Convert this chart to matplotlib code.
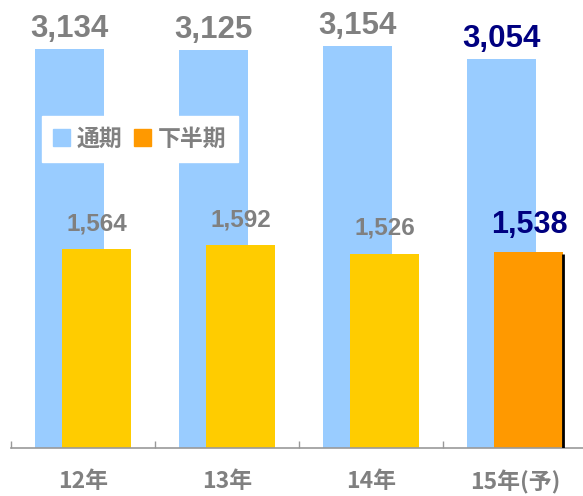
import matplotlib
matplotlib.use("Agg")
import matplotlib.pyplot as plt
from matplotlib import font_manager
from matplotlib.patches import Patch

# data
years = ["12年", "13年", "14年", "15年(予)"]
full_year = [3134, 3125, 3154, 3054]
second_half = [1564, 1592, 1526, 1538]
is_forecast = [False, False, False, True]

BLUE = "#99CCFF"
YELLOW = "#FFCC00"
ORANGE = "#FF9900"
GRAY = "#808080"
NAVY = "#000080"

installed = {f.name for f in font_manager.fontManager.ttflist}
num_font = "Liberation Sans Narrow" if "Liberation Sans Narrow" in installed else "Liberation Sans"
jp_font = ["Noto Sans CJK JP", "DejaVu Sans"]

fig = plt.figure(figsize=(5.83, 4.96), dpi=100)
W, H = 583, 496
ax = fig.add_axes([11 / W, 48 / H, 576 / W, 448 / H])

x = list(range(len(years)))
bw = 0.479
off = 0.097

ax.bar([i - off for i in x], full_year, width=bw, color=BLUE, zorder=1)
ax.bar([i + off for i in x], second_half, width=bw,
       color=[ORANGE if f else YELLOW for f in is_forecast], zorder=2)

# black edge on the forecast bar
for i, (v, f) in enumerate(zip(second_half, is_forecast)):
    if f:
        ax.vlines(i + off + bw / 2, -15, v * 0.99, color="black", lw=2, zorder=3)

ax.set_xlim(-0.5, 3.5)
ax.set_ylim(0, 3519)

# value labels
for i, (v, f) in enumerate(zip(full_year, is_forecast)):
    ax.annotate(f"{v:,}", (i - off, v), xytext=(0, 9), textcoords="offset points",
                ha="center", va="baseline", fontsize=22.5, fontweight="bold",
                color=NAVY if f else GRAY, family=num_font)
for i, (v, f) in enumerate(zip(second_half, is_forecast)):
    ax.annotate(f"{v:,}", (i + off, v), xytext=(0, 13.5), textcoords="offset points",
                ha="center", va="baseline",
                fontsize=22 if f else 17.5, fontweight="bold",
                color=NAVY if f else GRAY, family=num_font)

# axes styling
for s in ["top", "right", "left"]:
    ax.spines[s].set_visible(False)
ax.spines["bottom"].set_color("#999999")
ax.spines["bottom"].set_linewidth(1.2)
ax.set_yticks([])
ax.set_xticks(x)
ax.set_xticklabels(years, fontsize=16.5, fontweight="bold", color=GRAY, family=jp_font)
ax.tick_params(axis="x", which="major", length=0, pad=16)
ax.set_xticks([i - 0.5 for i in range(len(years) + 1)], minor=True)
ax.tick_params(axis="x", which="minor", direction="in", length=5, color="#999999", width=1)

handles = [Patch(color=BLUE, label="通期"), Patch(color=ORANGE, label="下半期")]
leg = ax.legend(handles=handles, ncol=2, loc="upper left",
                bbox_to_anchor=(42 / W, 1 - 116 / H), bbox_transform=fig.transFigure,
                prop={"family": jp_font, "size": 16.5, "weight": "bold"},
                handlelength=0.72, handleheight=0.72, handletextpad=0.3,
                columnspacing=0.5, borderpad=0.5, borderaxespad=0,
                frameon=True, fancybox=False)
leg.get_frame().set_facecolor("white")
leg.get_frame().set_edgecolor("white")
leg.get_frame().set_alpha(1)
for t in leg.get_texts():
    t.set_color(GRAY)

fig.savefig("out.png", dpi=100)
